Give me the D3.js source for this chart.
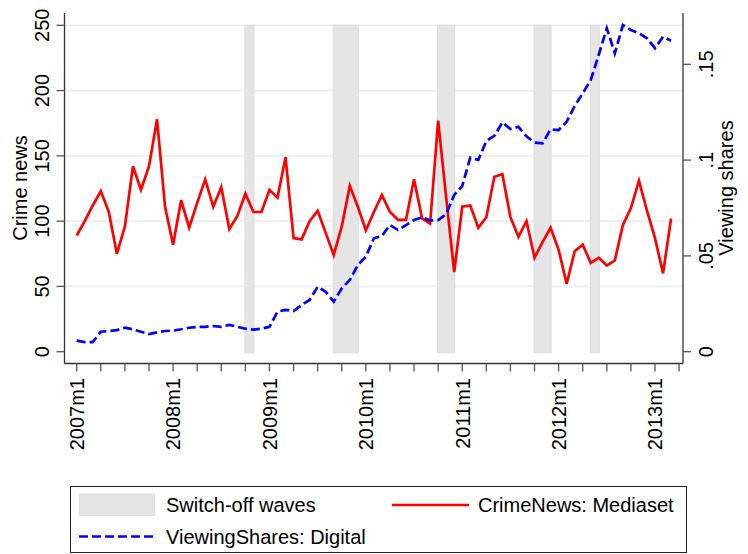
<!DOCTYPE html>
<html>
<head>
<meta charset="utf-8">
<script src="https://cdn.jsdelivr.net/npm/d3@7"></script>
<style>
  html, body { margin: 0; padding: 0; background: #fff; }
  svg { display: block; font-family: "Liberation Sans", Arial, sans-serif; }
</style>
</head>
<body>
<svg id="chart" width="748" height="554"></svg>
<script>
// ---------- DATA ----------
const months = [
  "2007m1","2007m2","2007m3","2007m4","2007m5","2007m6","2007m7","2007m8","2007m9","2007m10","2007m11","2007m12",
  "2008m1","2008m2","2008m3","2008m4","2008m5","2008m6","2008m7","2008m8","2008m9","2008m10","2008m11","2008m12",
  "2009m1","2009m2","2009m3","2009m4","2009m5","2009m6","2009m7","2009m8","2009m9","2009m10","2009m11","2009m12",
  "2010m1","2010m2","2010m3","2010m4","2010m5","2010m6","2010m7","2010m8","2010m9","2010m10","2010m11","2010m12",
  "2011m1","2011m2","2011m3","2011m4","2011m5","2011m6","2011m7","2011m8","2011m9","2011m10","2011m11","2011m12",
  "2012m1","2012m2","2012m3","2012m4","2012m5","2012m6","2012m7","2012m8","2012m9","2012m10","2012m11","2012m12",
  "2013m1","2013m2","2013m3"
];
const crimeNews = [
  89,100,112,123,107,75,96,142,124,142,178,111,
  82,116,95,114,132,111,126,94,104,121,107,107,
  124,118,149,87,86,100,108,91,74,96,127,111,
  93,107,120,107,101,101,132,102,98,177,118,61,
  111,112,95,103,134,136,103,88,100,72,84,95,
  78,52,77,82,68,72,66,70,97,110,131,108,
  87,60,102
];
const viewingShares = [
  0.0058,0.0050,0.0050,0.0104,0.0108,0.0113,0.0125,0.0117,0.0104,0.0092,0.0101,0.0108,
  0.0110,0.0117,0.0125,0.0129,0.0130,0.0134,0.0130,0.0140,0.0130,0.0120,0.0115,0.0120,
  0.0130,0.0209,0.0218,0.0212,0.0244,0.0270,0.0339,0.0313,0.0261,0.0331,0.0374,0.0452,
  0.0496,0.0592,0.0604,0.0661,0.0635,0.0661,0.0687,0.0701,0.0685,0.0687,0.0718,0.0818,
  0.0865,0.1013,0.1001,0.1100,0.1127,0.1197,0.1162,0.1174,0.1124,0.1091,0.1088,0.1160,
  0.1157,0.1200,0.1282,0.1349,0.1418,0.1550,0.1688,0.1557,0.1705,0.1679,0.1662,0.1636,
  0.1584,0.1644,0.1623
];
const bandStarts = ["2008m10","2009m9","2010m10","2011m10","2012m5"];
const bandEnds   = ["2008m11","2009m12","2010m12","2011m12","2012m6"];
const xTickLabels = ["2007m1","2008m1","2009m1","2010m1","2011m1","2012m1","2013m1"];
const leftTicks = [0,50,100,150,200,250];
const rightTicks = [0,0.05,0.1,0.15];
const rightTickLabels = ["0",".05",".1",".15"];
const legendLabels = ["Switch-off waves","CrimeNews: Mediaset","ViewingShares: Digital"];
const axisTitles = ["Crime news","Viewing shares"];

// ---------- LAYOUT ----------
const svg = d3.select("#chart");
const FONT = 20;
const plotLeft = 64.5, plotRight = 683, plotTop = 13, plotBottom = 363.5;

const idx = m => months.indexOf(m);
const x = d3.scaleLinear().domain([0, 72]).range([76.7, 655]);
const yL = d3.scaleLinear().domain([0, 250]).range([351.7, 25.3]);
const yR = d3.scaleLinear().domain([0, 0.15]).range([351.7, 64.3]);

// gridlines
svg.append("g").selectAll("line").data(leftTicks.filter(d => d > 0)).join("line")
  .attr("x1", plotLeft).attr("x2", plotRight)
  .attr("y1", d => yL(d)).attr("y2", d => yL(d))
  .attr("stroke", "#e8f0f2").attr("stroke-width", 1.6);

// switch-off bands
svg.append("g").selectAll("rect").data(bandStarts.map((s, i) => [idx(s), idx(bandEnds[i])])).join("rect")
  .attr("x", d => x(d[0]) - 0.5)
  .attr("width", d => x(d[1]) - x(d[0]) + 1)
  .attr("y", yL(250))
  .attr("height", yL(0) - yL(250) + 1)
  .attr("fill", "#e5e5e5")
  .attr("stroke", "#dcdcdc").attr("stroke-width", 1);

// lines
const redLine = d3.line().x((d, i) => x(i)).y(d => yL(d));
svg.append("path").datum(crimeNews)
  .attr("d", redLine).attr("fill", "none")
  .attr("stroke", "#ff0000").attr("stroke-width", 2.7)
  .attr("stroke-linejoin", "miter").attr("stroke-miterlimit", 4);

const blueLine = d3.line().x((d, i) => x(i)).y(d => yR(d));
svg.append("path").datum(viewingShares)
  .attr("d", blueLine).attr("fill", "none")
  .attr("stroke", "#0000ff").attr("stroke-width", 2.7)
  .attr("stroke-dasharray", "9,4");

// axes lines
const axisColor = "#333";
svg.append("line").attr("x1", plotLeft).attr("x2", plotLeft).attr("y1", plotTop).attr("y2", plotBottom)
  .attr("stroke", axisColor).attr("stroke-width", 1.3);
svg.append("line").attr("x1", plotRight).attr("x2", plotRight).attr("y1", plotTop).attr("y2", plotBottom)
  .attr("stroke", axisColor).attr("stroke-width", 1.3);
svg.append("line").attr("x1", plotLeft).attr("x2", plotRight).attr("y1", plotBottom).attr("y2", plotBottom)
  .attr("stroke", axisColor).attr("stroke-width", 1.3);

// left ticks + labels
const gl = svg.append("g");
gl.selectAll("line").data(leftTicks).join("line")
  .attr("x1", plotLeft - 8).attr("x2", plotLeft)
  .attr("y1", d => yL(d)).attr("y2", d => yL(d))
  .attr("stroke", "#555").attr("stroke-width", 1.3);
gl.selectAll("text").data(leftTicks).join("text")
  .attr("transform", d => `translate(49.3,${yL(d)}) rotate(-90)`)
  .attr("text-anchor", "middle").attr("font-size", FONT).attr("fill", "#000")
  .text(d => d);

// right ticks + labels
const gr = svg.append("g");
gr.selectAll("line").data(rightTicks).join("line")
  .attr("x1", plotRight).attr("x2", plotRight + 8)
  .attr("y1", d => yR(d)).attr("y2", d => yR(d))
  .attr("stroke", "#555").attr("stroke-width", 1.3);
gr.selectAll("text").data(rightTicks).join("text")
  .attr("transform", d => `translate(712.5,${yR(d)}) rotate(-90)`)
  .attr("text-anchor", "middle").attr("font-size", FONT).attr("fill", "#000")
  .text((d, i) => rightTickLabels[i]);

// x ticks (quarterly) + labels
const xTickIdx = d3.range(0, 76, 3);
svg.append("g").selectAll("line").data(xTickIdx).join("line")
  .attr("x1", d => x(d)).attr("x2", d => x(d))
  .attr("y1", plotBottom).attr("y2", plotBottom + 8)
  .attr("stroke", "#555").attr("stroke-width", 1.3);
svg.append("g").selectAll("text").data(xTickLabels).join("text")
  .attr("transform", d => `translate(${x(idx(d)) + 7.3},378) rotate(-90)`)
  .attr("text-anchor", "end").attr("font-size", FONT).attr("fill", "#000")
  .text(d => d);

// axis titles
svg.append("text").attr("transform", `translate(27,188) rotate(-90)`)
  .attr("text-anchor", "middle").attr("font-size", FONT).text(axisTitles[0]);
svg.append("text").attr("transform", `translate(733,188) rotate(-90)`)
  .attr("text-anchor", "middle").attr("font-size", FONT).text(axisTitles[1]);

// legend
const lg = svg.append("g");
lg.append("rect").attr("x", 70.5).attr("y", 486.5).attr("width", 616).attr("height", 66)
  .attr("fill", "#fff").attr("stroke", "#222").attr("stroke-width", 1);
lg.append("rect").attr("x", 79.5).attr("y", 494).attr("width", 75).attr("height", 21.5)
  .attr("fill", "#e5e5e5").attr("stroke", "#dcdcdc");
lg.append("text").attr("x", 166).attr("y", 512).attr("font-size", FONT).text(legendLabels[0]);
lg.append("line").attr("x1", 392).attr("x2", 469).attr("y1", 505).attr("y2", 505)
  .attr("stroke", "#ff0000").attr("stroke-width", 2.7);
lg.append("text").attr("x", 478).attr("y", 512).attr("font-size", FONT).text(legendLabels[1]);
lg.append("line").attr("x1", 79).attr("x2", 155).attr("y1", 536.5).attr("y2", 536.5)
  .attr("stroke", "#0000ff").attr("stroke-width", 2.7).attr("stroke-dasharray", "9,4");
lg.append("text").attr("x", 166).attr("y", 544).attr("font-size", FONT).text(legendLabels[2]);
</script>
</body>
</html>
